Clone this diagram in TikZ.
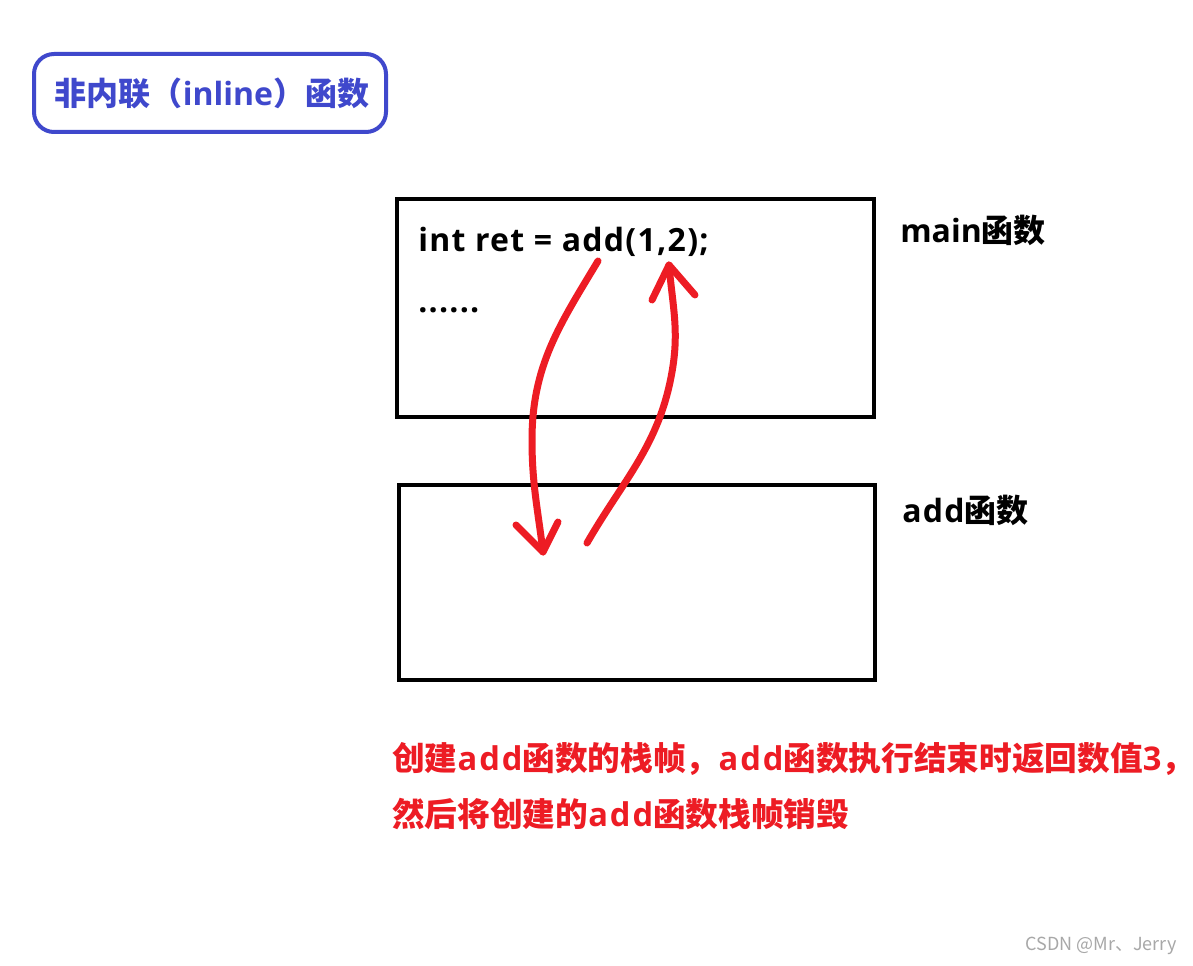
\documentclass[tikz,border=0pt]{standalone}
\usepackage{fontspec}
\setmainfont{Noto Sans CJK SC}
\newfontfamily\lat{Open Sans}
\newfontfamily\latw{Open Sans}[LetterSpace=4]
\newfontfamily\latr{Open Sans}[LetterSpace=6]
\definecolor{pred}{HTML}{ED1C24}
\definecolor{pblue}{HTML}{3F48CC}
\definecolor{wm}{HTML}{A8A8A8}
\tikzset{
  frame/.style={draw=black, line width=3pt},
  titlebox/.style={draw=pblue, line width=3pt, rounded corners=15pt},
  redline/.style={draw=pred, line width=5.25pt, line cap=round, line join=round},
  bigtxt/.style={inner sep=0pt, font=\bfseries\fontsize{24}{28}\selectfont},
  redtxt/.style={inner sep=0pt, text=pred, font=\bfseries\fontsize{24.5}{28}\selectfont},
}
\begin{document}
\begin{tikzpicture}[x=0.75pt, y=-0.75pt]
\useasboundingbox[fill=white] (0,0) rectangle (1193,966);
% title
\draw[titlebox] (34,54) rectangle (386,132);
\node[bigtxt, text=pblue] (title) at (212,93) {非内联（{\lat inline}）函数};
% frames
\draw[frame] (397,199) rectangle (874,417);
\draw[frame] (399,485) rectangle (875,680);
% texts
\node[bigtxt, anchor=base west] (code) at (418,252) {\latw int ret = add(1,2);};
\node[bigtxt, anchor=base west] (dots) at (418,313) {\latw ......};
\node[bigtxt, anchor=base west] (mainl) at (900,243) {{\lat main}函数};
\node[bigtxt, anchor=base west] (addl) at (902,522) {{\latw add}函数};
\node[redtxt, anchor=base west] (l1) at (392,770) {创建{\latr add}函数的栈帧，{\latr add}函数执行结束时返回数值{\latr 3}\makebox[0.4em][l]{，}};
\node[redtxt, anchor=base west] (l2) at (392,826) {然后将创建的{\latr add}函数栈帧销毁};
\node[inner sep=0pt, anchor=east, text=wm, font=\fontsize{13.5}{15}\selectfont] (wmk) at (1177,946) {CSDN @Mr、Jerry};
% arrows
\coordinate (a1s) at (598,261);
\coordinate (a1m) at (532,440);
\coordinate (a1t) at (543,552);
\coordinate (a1l) at (516,525);
\coordinate (a1r) at (558,522);
\coordinate (a2s) at (587,543);
\coordinate (a2m) at (672,372);
\coordinate (a2t) at (669,265);
\coordinate (a2l) at (652,300);
\coordinate (a2r) at (695,295);
\draw[redline] (a1s) to[out=-121,in=90] (a1m) to[out=-90,in=97] (a1t);
\draw[redline] (a1l) -- (a1t) -- (a1r);
\draw[redline] (a2s) to[out=60,in=-100] (a2m) to[out=80,in=-85] (a2t);
\draw[redline] (a2l) -- (a2t) -- (a2r);
\end{tikzpicture}
\end{document}
